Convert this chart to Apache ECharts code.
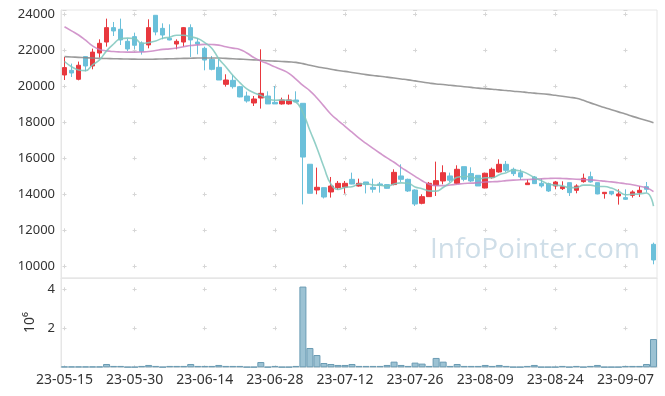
<!DOCTYPE html>
<html>
<head>
<meta charset="utf-8">
<script src="https://cdn.jsdelivr.net/npm/echarts@6/dist/echarts.min.js"></script>
<style>html,body{margin:0;padding:0;background:#fff}#c{width:665px;height:396px}</style>
</head>
<body>
<div id="c"></div>
<script>
const dates = ['23-05-15','23-05-16','23-05-17','23-05-18','23-05-19','23-05-22','23-05-23','23-05-24','23-05-25','23-05-26',
'23-05-30','23-05-31','23-06-01','23-06-02','23-06-05','23-06-07','23-06-08','23-06-09','23-06-12','23-06-13',
'23-06-14','23-06-15','23-06-16','23-06-19','23-06-20','23-06-21','23-06-22','23-06-23','23-06-26','23-06-27',
'23-06-28','23-06-29','23-06-30','23-07-03','23-07-04','23-07-05','23-07-06','23-07-07','23-07-10','23-07-11',
'23-07-12','23-07-13','23-07-14','23-07-17','23-07-18','23-07-19','23-07-20','23-07-21','23-07-24','23-07-25',
'23-07-26','23-07-27','23-07-28','23-07-31','23-08-01','23-08-02','23-08-03','23-08-04','23-08-07','23-08-08',
'23-08-09','23-08-10','23-08-11','23-08-14','23-08-16','23-08-17','23-08-18','23-08-21','23-08-22','23-08-23',
'23-08-24','23-08-25','23-08-28','23-08-29','23-08-30','23-08-31','23-09-01','23-09-04','23-09-05','23-09-06',
'23-09-07','23-09-08','23-09-11','23-09-12','23-09-13'];

const opens = [20630,20890,20390,21650,21130,21850,22460,23260,23170,22500,
22760,22410,22300,23945,23220,22667,22350,22460,23260,22460,
22110,21500,21055,20110,20333,19980,19460,19073,19350,19460,
19110,19020,19020,19240,19056,15670,14240,14370,14130,14370,
14400,14833,14460,14686,14390,14575,14540,14540,15020,14833,
14240,13500,13870,14500,14740,15020,14610,15537,15150,15056,
14350,14926,15240,15667,15389,15200,14537,14963,14611,14593,
14463,14315,14648,14222,14704,14981,14648,14037,14167,13907,
13815,13944,14093,14426,11222];

const closes = [21040,20740,21170,21130,21900,22390,23260,23075,22575,22075,
22280,21945,23260,23020,22850,22575,22500,23260,22575,22350,
21460,20945,20350,20350,19980,19410,19185,19296,19610,19020,
19020,19240,19240,19130,16070,14056,14390,13850,14460,14610,
14610,14570,14610,14540,14280,14500,14333,15220,14833,14185,
13460,13870,14610,14760,15200,14780,15390,14833,14740,14463,
15170,15389,15667,15333,15148,14963,14630,14593,14463,14185,
14685,14426,14093,14463,14889,14685,14020,14111,14020,14019,
13722,14130,14222,14278,10352];

const lows = [20351,20517,20333,20834,20945,21595,22204,22796,22296,21962,
22056,21762,22111,22833,22611,22556,22056,22204,21630,21778,
20889,20889,20351,19983,19873,19390,19093,18906,18762,19018,
19018,18982,18982,19129,13440,14056,14000,13770,13817,14240,
14040,14556,14426,14050,14093,14093,14315,14500,14686,14130,
13352,13444,13871,13907,14556,14685,14556,14722,14685,14463,
14333,14870,15204,15241,15018,14796,14537,14574,14370,14130,
14278,14241,13907,14056,14648,14648,14000,13759,13944,13426,
13685,13815,13852,14093,10111];

const highs = [21629,21262,21373,21685,22093,22611,23760,23575,23760,22648,
22982,22500,23722,23944,23500,23444,22611,23296,23444,22685,
22204,21685,21538,20667,20630,20020,19704,19462,22056,19722,
20018,19370,19537,19722,19056,15680,15483,14372,14963,14741,
14741,15204,14870,14686,14870,14686,14555,15389,15667,14870,
14278,14000,14685,15815,15611,15204,15611,15537,15500,15056,
15204,15481,15944,15852,15481,15389,14833,15018,14870,14648,
14741,14722,14648,14556,15148,15259,14648,14111,14185,14278,
14278,14222,14463,14685,11315];

const volumes = [40000,40000,40000,40000,40000,40000,170000,70000,70000,20000,
20000,70000,120000,70000,20000,70000,70000,70000,170000,70000,
70000,70000,120000,70000,70000,70000,20000,20000,270000,20000,
70000,20000,20000,70000,4140000,990000,630000,220000,170000,120000,
120000,170000,70000,70000,70000,70000,120000,290000,120000,70000,
240000,190000,70000,480000,290000,70000,170000,70000,70000,70000,
120000,70000,120000,70000,20000,20000,70000,120000,20000,20000,
20000,70000,20000,70000,20000,70000,120000,20000,20000,20000,
70000,70000,70000,170000,1450000];

const ma5 = [21380,21090,20910,20870,21196,21466,21970,22351,22640,22675,
22653,22390,22427,22516,22671,22730,22841,22841,22752,22652,
22429,22118,21536,21091,20617,20207,19855,19644,19496,19304,
19226,19237,19226,19130,18540,17547,16577,15499,14565,14273,
14384,14420,14572,14588,14522,14500,14453,14575,14633,14614,
14406,14314,14192,14177,14380,14644,14948,14993,14989,14841,
14919,14919,15086,15204,15341,15300,15148,14933,14759,14567,
14511,14470,14370,14370,14511,14511,14430,14434,14345,14171,
13978,14000,14023,14074,13341];

const ma20 = [23310,23080,22850,22560,22250,22050,21970,21930,21910,21900,
21900,21910,21930,21990,22050,22080,22130,22200,22270,22300,
22330,22320,22290,22200,22120,22050,21850,21600,21400,21250,
21080,20920,20720,20400,20050,19750,19350,18900,18450,18100,
17780,17450,17120,16830,16550,16280,16020,15780,15500,15250,
15000,14750,14560,14480,14480,14520,14560,14600,14620,14650,
14680,14700,14720,14760,14790,14810,14820,14840,14860,14880,
14890,14880,14860,14840,14820,14800,14770,14730,14690,14640,
14590,14530,14450,14360,14150];

const ma120 = [21650,21630,21610,21590,21570,21555,21545,21535,21525,21515,
21510,21505,21500,21510,21520,21530,21540,21550,21560,21570,
21575,21575,21570,21550,21530,21510,21490,21470,21450,21420,
21400,21380,21360,21330,21260,21170,21090,21020,20950,20880,
20830,20770,20710,20650,20600,20560,20510,20460,20410,20360,
20300,20240,20180,20130,20100,20060,20020,19980,19940,19900,
19870,19840,19800,19770,19730,19700,19660,19620,19590,19550,
19500,19450,19390,19340,19220,19080,18950,18820,18700,18580,
18460,18330,18210,18100,17980];

const candleData = dates.map((d, i) => [opens[i], closes[i], lows[i], highs[i]]);

const chart = echarts.init(document.getElementById('c'), null, {renderer: 'canvas'});
const FONT = 'Noto Sans';
const gridBorder = '#e6e6e6';
const crossColor = '#d6d6d6';

chart.setOption({
  animation: false,
  backgroundColor: '#fff',
  textStyle: {fontFamily: FONT},
  grid: [
    {left: 61, width: 596, top: 10, height: 268, show: true, borderColor: gridBorder, borderWidth: 1},
    {left: 61, width: 596, top: 278, height: 89.3, show: true, borderColor: gridBorder, borderWidth: 1}
  ],
  xAxis: [
    {
      type: 'category', gridIndex: 0, data: dates, boundaryGap: true,
      axisLabel: {show: false}, axisTick: {show: false},
      axisLine: {show: true, lineStyle: {color: gridBorder}},
      splitLine: {show: true, interval: 9, alignWithLabel: true,
        lineStyle: {color: crossColor, width: 1, type: [4, 32], dashOffset: 33.7}}
    },
    {
      type: 'category', gridIndex: 1, data: dates, boundaryGap: true,
      axisLabel: {interval: 9, fontSize: 14, color: '#333', margin: 6, fontFamily: FONT},
      axisTick: {show: false},
      axisLine: {show: true, lineStyle: {color: gridBorder}},
      splitLine: {show: true, interval: 9, alignWithLabel: true,
        lineStyle: {color: crossColor, width: 1, type: [4, 35], dashOffset: 29.7}}
    }
  ],
  yAxis: [
    {
      type: 'value', gridIndex: 0, min: 9350, max: 24240, splitNumber: 7,
      axisLabel: {fontSize: 13, color: '#333', margin: 6, showMinLabel: false, showMaxLabel: false,
        formatter: v => String(v), fontFamily: FONT},
      axisTick: {show: false},
      axisLine: {show: true, lineStyle: {color: gridBorder}},
      splitLine: {show: true, lineStyle: {color: crossColor, width: 1, type: [4, 66.12], dashOffset: 68.62}}
    },
    {
      type: 'value', gridIndex: 1, min: 0, max: 4580000, interval: 2000000,
      name: '10\u2076', nameLocation: 'middle', nameRotate: 90, nameGap: 24,
      nameTextStyle: {fontSize: 14, color: '#333', fontFamily: FONT},
      axisLabel: {fontSize: 13, color: '#333', margin: 6, showMinLabel: false, showMaxLabel: false,
        formatter: v => String(v / 1000000), fontFamily: FONT},
      axisTick: {show: false},
      axisLine: {show: true, lineStyle: {color: gridBorder}},
      splitLine: {show: true, lineStyle: {color: crossColor, width: 1, type: [4, 66.12], dashOffset: 68.62}}
    }
  ],
  graphic: [{
    type: 'text', left: 430, top: 236, z: 0, silent: true,
    style: {text: 'InfoPointer.com', font: '28px "Open Sans"', fill: '#cfdee8'}
  }],
  series: [
    {
      type: 'candlestick', xAxisIndex: 0, yAxisIndex: 0, data: candleData, barWidth: 5,
      itemStyle: {color: '#e8383e', color0: '#6bc0da', borderColor: '#e8383e', borderColor0: '#6bc0da', borderWidth: 1}
    },
    {
      type: 'line', xAxisIndex: 0, yAxisIndex: 0, data: ma120, smooth: true, symbol: 'none',
      lineStyle: {color: '#8a8a8a', width: 1.6, opacity: 0.85}
    },
    {
      type: 'line', xAxisIndex: 0, yAxisIndex: 0, data: ma20, smooth: true, symbol: 'none',
      lineStyle: {color: '#c77dbf', width: 1.6, opacity: 0.8}
    },
    {
      type: 'line', xAxisIndex: 0, yAxisIndex: 0, data: ma5, smooth: true, symbol: 'none',
      lineStyle: {color: '#7fc7bd', width: 1.6, opacity: 0.85}
    },
    {
      type: 'bar', xAxisIndex: 1, yAxisIndex: 1, data: volumes, barCategoryGap: '0%',
      itemStyle: {color: '#9cc2d3', borderColor: '#6a9bb3', borderWidth: 1}
    }
  ]
});
</script>
</body>
</html>
